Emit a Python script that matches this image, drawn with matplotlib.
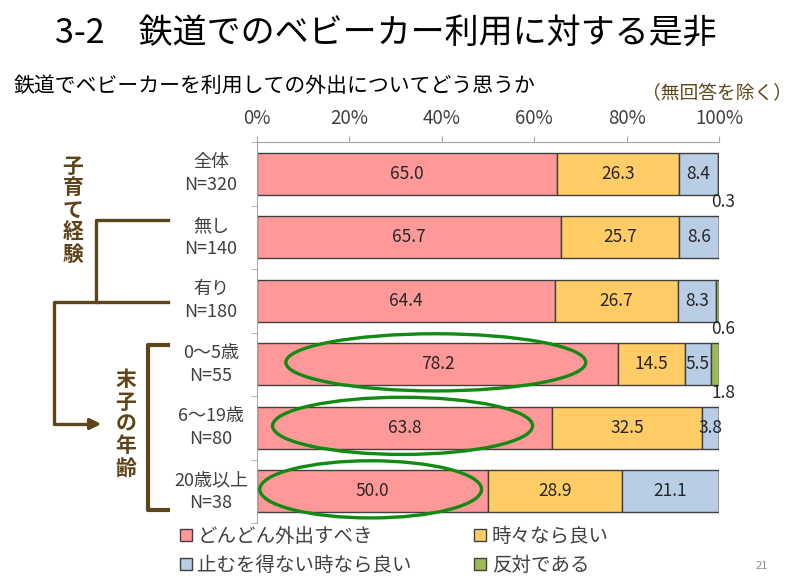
import numpy as np
import matplotlib
matplotlib.use("Agg")
import matplotlib.pyplot as plt
from matplotlib.patches import Ellipse, Patch
from matplotlib.transforms import blended_transform_factory

plt.rcParams['font.family'] = ['Noto Sans CJK JP', 'DejaVu Sans']

# data
groups = ["全体", "無し", "有り", "0～5歳", "6～19歳", "20歳以上"]
counts = ["N=320", "N=140", "N=180", "N=55", "N=80", "N=38"]
series_names = ["どんどん外出すべき", "時々なら良い", "止むを得ない時なら良い", "反対である"]
go_out = [65.0, 65.7, 64.4, 78.2, 63.8, 50.0]
sometimes = [26.3, 25.7, 26.7, 14.5, 32.5, 28.9]
if_needed = [8.4, 8.6, 8.3, 5.5, 3.8, 21.1]
against = [0.3, 0.0, 0.6, 1.8, 0.0, 0.0]
circled = [3, 4, 5]

colors = ["#FF9999", "#FFCC66", "#B9CDE5", "#9BBB59"]
brown = "#5E4519"
txt = "#404040"

fig = plt.figure(figsize=(8, 5.88), dpi=100)
ax = fig.add_axes([257/800, 1-523/588, 462/800, 381/588])

y = np.arange(len(groups))
series = [go_out, sometimes, if_needed, against]
left = np.zeros(len(groups))
for vals, c in zip(series, colors):
    vals = np.array(vals)
    ax.barh(y, vals, left=left, height=0.66, color=c, edgecolor="#404040", linewidth=1)
    for i, v in enumerate(vals):
        if v >= 3:
            ax.text(left[i] + v/2, i, "%.1f" % v, ha="center", va="center",
                    fontsize=12.5, color="#262626")
        elif v > 0:
            ax.text(100.9, i + 0.45, "%.1f" % v, ha="center", va="center",
                    fontsize=12.5, color="#262626", clip_on=False)
    left += vals

# green ellipses round the pink segments
for i in circled:
    v = go_out[i]
    ax.add_patch(Ellipse((v/2 - 0.4, i - 0.03), 0.6*v + 18, 0.9, fill=False,
                         edgecolor="#138A13", linewidth=2.4, clip_on=False, zorder=5))

ax.set_xlim(0, 100)
ax.set_ylim(len(groups) - 0.5, -0.5)
ax.xaxis.tick_top()
ax.set_xticks(np.arange(0, 101, 20))
ax.set_xticklabels(["%d%%" % t for t in range(0, 101, 20)], fontsize=13.5, color=txt)
ax.tick_params(axis="x", length=4, pad=5, color="#A6A6A6")
ax.set_yticks([])
ax.set_yticks(np.arange(-0.5, len(groups)), minor=True)
ax.tick_params(axis="y", which="minor", length=4, color="#A6A6A6")
for s in ["right", "bottom"]:
    ax.spines[s].set_visible(False)
for s in ["left", "top"]:
    ax.spines[s].set_color("#A6A6A6")

trans = blended_transform_factory(fig.transFigure, ax.transData)
for i, (g, n) in enumerate(zip(groups, counts)):
    ax.text(211/800, i, g + "\n" + n, transform=trans, ha="center", va="center",
            fontsize=13, color=txt, linespacing=1.35)

# overlay in pixel coords for titles and brackets
ov = fig.add_axes([0, 0, 1, 1], zorder=-1)
ov.set_xlim(0, 800)
ov.set_ylim(588, 0)
ov.axis("off")

ov.text(386, 34, "3-2　鉄道でのベビーカー利用に対する是非", ha="center", va="center",
        fontsize=24.5, color="black")
ov.text(14, 86, "鉄道でベビーカーを利用しての外出についてどう思うか", ha="left",
        va="center", fontsize=15, color="black")
ov.text(792, 93, "（無回答を除く）", ha="right", va="center", fontsize=13.5, color=brown)
ov.text(762, 566, "21", ha="center", va="center", fontsize=8, color="#8C8C8C")

lw = 2.4
ov.plot([168, 96, 96, 168], [220, 220, 302, 302], color=brown, lw=lw)
ov.plot([96, 54, 54, 95], [302, 302, 424, 424], color=brown, lw=lw)
ov.annotate("", xy=(104, 424), xytext=(90, 424),
            arrowprops=dict(arrowstyle="-|>", color=brown, lw=lw, mutation_scale=16))
ov.plot([168, 148, 148, 168], [345, 345, 510, 510], color=brown, lw=lw + 0.6)

for k, ch in enumerate("子育て経験"):
    ov.text(73, 166 + k*22, ch, ha="center", va="center", fontsize=15,
            fontweight="bold", color=brown)
for k, ch in enumerate("末子の年齢"):
    ov.text(126, 380 + k*22, ch, ha="center", va="center", fontsize=15,
            fontweight="bold", color=brown)

handles = [Patch(facecolor=c, edgecolor="#404040", linewidth=1) for c in colors]
order = [0, 2, 1, 3]
fig.legend([handles[k] for k in order], [series_names[k] for k in order],
           ncol=2, loc="upper left", bbox_to_anchor=(180/800, 1-526/588),
           frameon=False, fontsize=14, handlelength=0.6, handleheight=0.6,
           handletextpad=0.3, columnspacing=3.2, labelspacing=0.4,
           labelcolor=txt, borderaxespad=0, borderpad=0)

fig.savefig("out.png", dpi=100)
